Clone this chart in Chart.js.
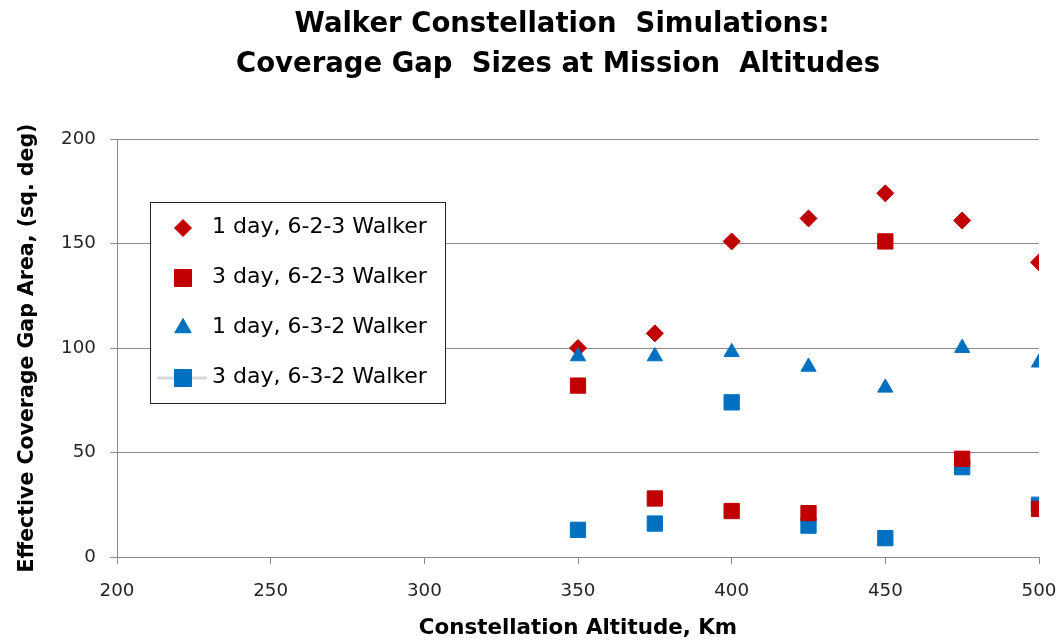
<!DOCTYPE html>
<html>
<head>
<meta charset="utf-8">
<script src="https://cdn.jsdelivr.net/npm/chart.js@4.4.1/dist/chart.umd.min.js"></script>
<style>
  html, body { margin: 0; padding: 0; background: #ffffff; }
  #wrap { position: relative; width: 1060px; height: 644px; }
</style>
</head>
<body>
<div id="wrap"><canvas id="c" width="1060" height="644"></canvas></div>
<script>
// ---- Data ----
const titleLines = ['Walker Constellation  Simulations:', 'Coverage Gap  Sizes at Mission  Altitudes'];
const xAxisTitle = 'Constellation Altitude, Km';
const yAxisTitle = 'Effective Coverage Gap Area, (sq. deg)';
const altitudes = [350, 375, 400, 425, 450, 475, 500];
const seriesNames = ['1 day, 6-2-3 Walker', '3 day, 6-2-3 Walker', '1 day, 6-3-2 Walker', '3 day, 6-3-2 Walker'];
const oneDay623 = [100, 107, 151, 162, 174, 161, 141];
const threeDay623 = [82, 28, 22, 21, 151, 47, 23];
const oneDay632 = [96, 96, 98, 91, 81, 100, 93];
const threeDay632 = [13, 16, 74, 15, 9, 43, 25];
const xTicks = [200, 250, 300, 350, 400, 450, 500];
const yTicks = [0, 50, 100, 150, 200];

const RED = '#C00000';
const BLUE = '#0070C0';
const FONT = '"DejaVu Sans", sans-serif';

function pts(vals) { return altitudes.map((x, i) => ({ x: x, y: vals[i] })); }

const styles = [
  { color: RED, shape: 'rectRot', r: 8.5, order: 3 },
  { color: RED, shape: 'rect', r: 10.8, order: 0 },
  { color: BLUE, shape: 'triangle', r: 8.8, order: 1 },
  { color: BLUE, shape: 'rect', r: 10.8, order: 2 }
];
const seriesData = [oneDay623, threeDay623, oneDay632, threeDay632];

const datasets = seriesData.map((vals, i) => ({
  label: seriesNames[i],
  data: pts(vals),
  backgroundColor: styles[i].color,
  borderColor: styles[i].color,
  borderWidth: 1,
  pointStyle: styles[i].shape,
  pointRadius: styles[i].r,
  pointHoverRadius: styles[i].r,
  order: styles[i].order,
  showLine: false
}));

function drawMarker(ctx, shape, x, y, r, color) {
  ctx.save();
  ctx.fillStyle = color;
  ctx.strokeStyle = color;
  ctx.lineWidth = 1;
  ctx.beginPath();
  if (shape === 'rect') {
    const s = Math.SQRT1_2 * r;
    ctx.rect(x - s, y - s, 2 * s, 2 * s);
  } else if (shape === 'rectRot') {
    ctx.moveTo(x - r, y); ctx.lineTo(x, y - r); ctx.lineTo(x + r, y); ctx.lineTo(x, y + r);
    ctx.closePath();
  } else if (shape === 'triangle') {
    ctx.moveTo(x, y - r);
    ctx.lineTo(x + r * 0.866, y + r * 0.5);
    ctx.lineTo(x - r * 0.866, y + r * 0.5);
    ctx.closePath();
  }
  ctx.fill();
  ctx.stroke();
  ctx.restore();
}

const titlePlugin = {
  id: 'customTitle',
  afterDraw(chart) {
    const ctx = chart.ctx;
    ctx.save();
    ctx.fillStyle = '#000000';
    ctx.font = 'bold 27.5px ' + FONT;
    ctx.textAlign = 'center';
    ctx.textBaseline = 'alphabetic';
    ctx.fillText(titleLines[0], 562, 32);
    ctx.fillText(titleLines[1], 558, 72);
    ctx.restore();
  }
};

const legendPlugin = {
  id: 'customLegend',
  afterDraw(chart) {
    const ctx = chart.ctx;
    const bx = 150.5, by = 202.5, bw = 295, bh = 201;
    ctx.save();
    ctx.fillStyle = '#ffffff';
    ctx.fillRect(bx, by, bw, bh);
    ctx.strokeStyle = '#262626';
    ctx.lineWidth = 1;
    ctx.strokeRect(bx, by, bw, bh);
    const rows = [228, 278, 328, 378];
    const mx = 183;
    // grey line behind the last entry's marker
    ctx.strokeStyle = '#d9d9d9';
    ctx.lineWidth = 3;
    ctx.beginPath();
    ctx.moveTo(157, rows[3]);
    ctx.lineTo(207, rows[3]);
    ctx.stroke();
    const legendR = [8.5, 12, 9.5, 12];
    rows.forEach((y, i) => {
      drawMarker(ctx, styles[i].shape, mx, y, legendR[i], styles[i].color);
      ctx.fillStyle = '#000000';
      ctx.font = '22px ' + FONT;
      ctx.textAlign = 'left';
      ctx.textBaseline = 'middle';
      ctx.fillText(seriesNames[i], 212, y - 1);
    });
    ctx.restore();
  }
};

new Chart(document.getElementById('c'), {
  type: 'scatter',
  data: { datasets: datasets },
  plugins: [titlePlugin, legendPlugin],
  options: {
    responsive: false,
    animation: false,
    layout: { padding: { top: 139, right: 21, left: 0, bottom: 0 } },
    plugins: {
      legend: { display: false },
      title: { display: false },
      tooltip: { enabled: false }
    },
    scales: {
      x: {
        type: 'linear',
        min: 200, max: 500,
        afterBuildTicks(scale) { scale.ticks = xTicks.map(v => ({ value: v })); },
        afterFit(scale) { scale.height = 87; scale.paddingLeft = 0; scale.paddingRight = 0; },
        grid: { display: true, drawOnChartArea: false, drawTicks: true, tickLength: 7, color: '#898989', lineWidth: 1 },
        border: { display: true, color: '#898989', width: 1 },
        ticks: { color: '#262626', font: { family: FONT, size: 18.3 }, padding: 16, maxRotation: 0 },
        title: { display: true, text: xAxisTitle, color: '#000000', font: { family: FONT, size: 21.4, weight: 'bold' }, padding: { top: 0, bottom: 3 } }
      },
      y: {
        type: 'linear',
        min: 0, max: 200,
        afterBuildTicks(scale) { scale.ticks = yTicks.map(v => ({ value: v })); },
        afterFit(scale) { scale.width = 117; },
        grid: { display: true, drawOnChartArea: true, drawTicks: true, tickLength: 7, color: '#898989', lineWidth: 1 },
        border: { display: true, color: '#898989', width: 1 },
        ticks: { color: '#262626', font: { family: FONT, size: 18.3 }, padding: 14 },
        title: { display: true, text: yAxisTitle, color: '#000000', font: { family: FONT, size: 20.5, weight: 'bold' }, padding: { top: 15, bottom: 0 } }
      }
    }
  }
});
</script>
</body>
</html>
